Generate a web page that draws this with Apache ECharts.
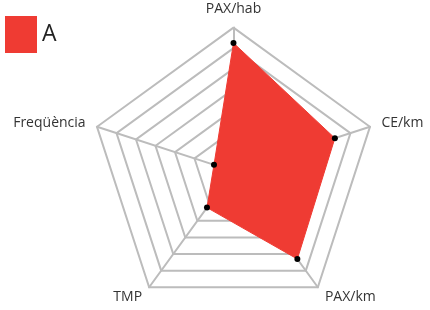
<!DOCTYPE html>
<html>
<head>
<meta charset="utf-8">
<script src="https://cdn.jsdelivr.net/npm/echarts@6/dist/echarts.min.js"></script>
<style>
  html, body { margin: 0; padding: 0; background: #fff; }
  #chart { width: 430px; height: 310px; }
</style>
</head>
<body>
<div id="chart"></div>
<script>
// indicadors del radar (ECharts els posa en sentit antihorari des de dalt)
const indicators = ['PAX/hab', 'Freqüència', 'TMP', 'PAX/km', 'CE/km']
const maxValue = 7
const seriesName = 'A'
const valuesA = [6.25, 1.0, 2.2, 5.3, 5.2]

const chart = echarts.init(document.getElementById('chart'))

const option = {
  animation: false,
  legend: {
    show: true,
    left: 0,
    top: 11,
    itemWidth: 32,
    itemHeight: 37,
    itemGap: 6,
    icon: 'rect',
    textStyle: {
      fontFamily: 'Open Sans',
      fontSize: 23,
      color: '#222'
    },
    data: [seriesName]
  },
  radar: {
    center: ['54.3%', '55.2%'],
    radius: 143.5,
    startAngle: 90,
    splitNumber: 7,
    shape: 'polygon',
    nameGap: 12,
    axisName: {
      color: '#333',
      fontFamily: 'Open Sans',
      fontSize: 14
    },
    splitLine: {
      lineStyle: { color: '#bcbcbc', width: 2 }
    },
    splitArea: { show: false },
    axisLine: {
      lineStyle: { color: '#bcbcbc', width: 2 }
    },
    indicator: indicators.map(name => ({ name, min: 0, max: maxValue }))
  },
  series: [{
    name: seriesName,
    type: 'radar',
    symbol: 'circle',
    symbolSize: 6,
    itemStyle: { color: '#ef3b33' },
    lineStyle: { color: '#ef3b33', width: 1 },
    areaStyle: { color: '#ef3b33', opacity: 1 },
    data: [{
      value: valuesA,
      name: seriesName,
      itemStyle: { color: '#000' }
    }]
  }]
}

chart.setOption(option)
</script>
</body>
</html>
